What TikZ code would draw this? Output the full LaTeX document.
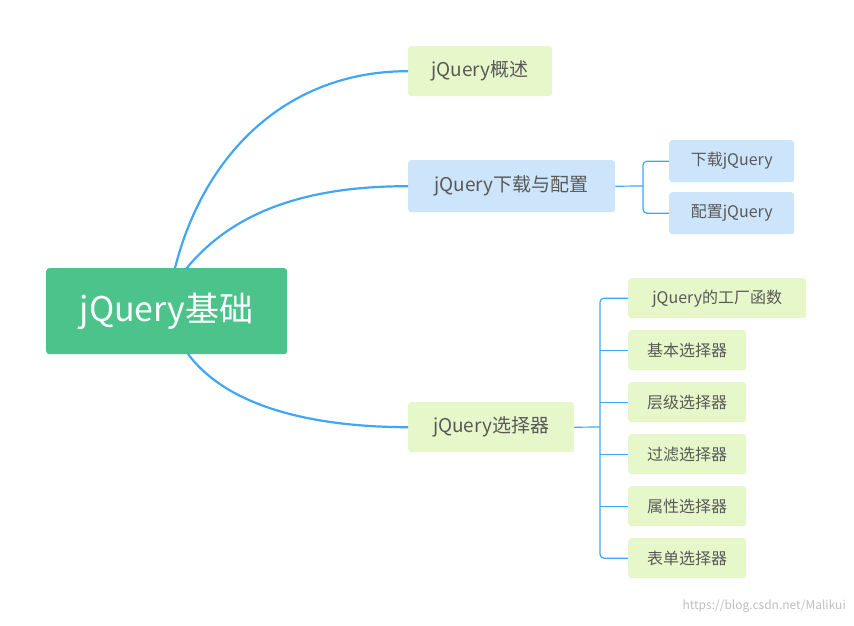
\documentclass[tikz,border=0pt]{standalone}
\usepackage{fontspec}
\setmainfont{Noto Sans CJK SC}
\begin{document}
\begin{tikzpicture}[x=1pt,y=-1pt,
  box/.style={rounded corners=3pt,inner sep=0pt,anchor=north west,text=black!65,font=\fontsize{19}{22}\selectfont},
  gbox/.style={box,fill=lgreen},
  bbox/.style={box,fill=lblue},
  sbox/.style={font=\fontsize{16}{19}\selectfont},
  link/.style={draw=lineblue,line width=2.2pt},
  thin/.style={draw=lineblue,line width=1.2pt,rounded corners=4pt}]
\definecolor{lgreen}{HTML}{E6F8C9}
\definecolor{lblue}{HTML}{CDE5FB}
\definecolor{lineblue}{HTML}{42A5F5}
\definecolor{rootg}{HTML}{4BC38A}
\useasboundingbox (0,0) rectangle (854,625);
\node[box,fill=rootg,text=white,minimum width=241pt,minimum height=86pt,font=\fontsize{34}{40}\selectfont] (root) at (46,268) {jQuery基础};
\node[gbox,minimum width=144pt,minimum height=50pt] (a) at (408,46) {jQuery概述};
\node[bbox,minimum width=207pt,minimum height=52pt] (b) at (408,160) {jQuery下载与配置};
\node[gbox,minimum width=166pt,minimum height=50pt] (c) at (408,402) {jQuery选择器};
\node[bbox,sbox,minimum width=125pt,minimum height=42pt] (b1) at (669,140) {下载jQuery};
\node[bbox,sbox,minimum width=125pt,minimum height=42pt] (b2) at (669,192) {配置jQuery};
\node[gbox,sbox,minimum width=178pt,minimum height=40pt] (c1) at (628,278) {jQuery的工厂函数};
\node[gbox,sbox,minimum width=118pt,minimum height=40pt] (c2) at (628,330) {基本选择器};
\node[gbox,sbox,minimum width=118pt,minimum height=40pt] (c3) at (628,382) {层级选择器};
\node[gbox,sbox,minimum width=118pt,minimum height=40pt] (c4) at (628,434) {过滤选择器};
\node[gbox,sbox,minimum width=118pt,minimum height=40pt] (c5) at (628,486) {属性选择器};
\node[gbox,sbox,minimum width=118pt,minimum height=40pt] (c6) at (628,538) {表单选择器};
\coordinate (r1) at (175,268);
\coordinate (r2) at (186,269);
\coordinate (r3) at (188,354);
\draw[link] (r1) .. controls (205,150) and (290,71) .. (a.west);
\draw[link] (r2) .. controls (230,215) and (300,186) .. (b.west);
\draw[link] (r3) .. controls (230,410) and (320,427) .. (c.west);
\coordinate (bj) at (643,186);
\draw[thin] (b.east) -- (bj);
\draw[thin] (b1.west) -| (bj) |- (b2.west);
\coordinate (cj) at (600,427);
\draw[thin] (c.east) -- (cj);
\draw[thin] (c1.west) -| (cj) |- (c6.west);
\foreach \n in {c2,c3,c4,c5} \draw[thin] (\n.west) -- (\n.west -| cj);
\node[anchor=east,text=black!25,font=\fontsize{12}{14}\selectfont,inner sep=0pt] (wm) at (846,606) {https://blog.csdn.net/Malikui};
\end{tikzpicture}
\end{document}
